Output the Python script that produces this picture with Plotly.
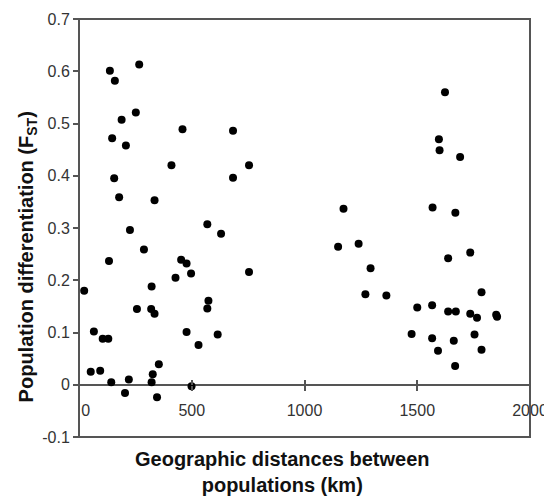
import plotly.graph_objects as go

# Geographic distance (km) between population pairs
distance_km = [
    137, 159, 267, 252, 189, 147, 208, 459, 683, 410, 754, 156, 683, 178, 335,
    569, 630, 226, 288, 133, 453, 477, 497, 428, 754, 23, 322, 257, 320, 335,
    574, 569, 66, 105, 130, 477, 615, 530, 52, 94, 354, 327, 221, 143, 322,
    204, 346, 499,
    1623, 1596, 1599, 1690, 1173, 1568, 1669, 1149, 1240, 1293, 1270, 1363,
    1637, 1735, 1785, 1500, 1566, 1637, 1671, 1735, 1765, 1850, 1854, 1475,
    1566, 1662, 1754, 1592, 1785, 1668,
]
# Population differentiation FST
fst = [
    0.601, 0.582, 0.613, 0.521, 0.507, 0.472, 0.458, 0.489, 0.486, 0.420, 0.420, 0.395, 0.396, 0.359, 0.353,
    0.307, 0.289, 0.296, 0.259, 0.237, 0.239, 0.232, 0.213, 0.205, 0.216, 0.180, 0.188, 0.145, 0.145, 0.136,
    0.161, 0.146, 0.102, 0.088, 0.088, 0.101, 0.096, 0.076, 0.025, 0.027, 0.039, 0.020, 0.010, 0.005, 0.005,
    -0.016, -0.024, -0.003,
    0.560, 0.470, 0.449, 0.436, 0.337, 0.339, 0.329, 0.264, 0.270, 0.223, 0.173, 0.171,
    0.242, 0.253, 0.177, 0.148, 0.152, 0.140, 0.140, 0.136, 0.128, 0.134, 0.130, 0.097,
    0.089, 0.084, 0.096, 0.065, 0.067, 0.036,
]

x_tick_vals = [0, 500, 1000, 1500, 2000]
x_tick_text = ["\u00a0\u00a0\u00a00", "500", "1000", "1500", "2000"]
y_tick_vals = [-0.1, 0, 0.1, 0.2, 0.3, 0.4, 0.5, 0.6, 0.7]
y_tick_text = ["-0.1", "0", "0.1", "0.2", "0.3", "0.4", "0.5", "0.6", "0.7"]

x_title = "<b>Geographic distances between<br>populations (km)</b>"
y_title = "<b>Population differentiation (F<sub>ST</sub>)</b>"

FONT = "Liberation Sans, Arial, sans-serif"
LINE = "#555555"

fig = go.Figure()
fig.add_trace(go.Scatter(
    x=distance_km, y=fst, mode="markers",
    marker=dict(color="black", size=8, line=dict(width=0)),
    showlegend=False,
))
# helper trace for the second x-axis (inside ticks)
fig.add_trace(go.Scatter(x=[1000], y=[0.3], xaxis="x2", mode="markers",
                         marker=dict(size=0, opacity=0), hoverinfo="skip",
                         showlegend=False))

y0_pos = (0 - (-0.1)) / 0.8

fig.update_layout(
    width=544, height=488,
    margin=dict(l=71, r=22, t=11, b=59, autoexpand=False),
    paper_bgcolor="white", plot_bgcolor="white",
    font=dict(family=FONT, size=16, color="#333333"),
    xaxis=dict(
        range=[0, 2000], anchor="free", position=y0_pos, automargin=False,
        tickvals=x_tick_vals, ticktext=x_tick_text,
        ticks="outside", ticklen=5, tickwidth=2, tickcolor=LINE,
        showgrid=False, zeroline=False, showline=False,
        tickfont=dict(size=16, color="#333333"),
        ticklabelstandoff=6,
    ),
    xaxis2=dict(
        range=[0, 2000], anchor="free", position=y0_pos, overlaying="x",
        automargin=False,
        tickvals=x_tick_vals, ticks="inside", ticklen=5, tickwidth=2,
        tickcolor=LINE, showticklabels=False, showgrid=False,
        zeroline=False, showline=False, side="bottom",
    ),
    yaxis=dict(
        range=[-0.1, 0.7], tickvals=y_tick_vals, ticktext=y_tick_text,
        automargin=False,
        ticks="outside", ticklen=5, tickwidth=2, tickcolor=LINE,
        showgrid=False, zeroline=True, zerolinecolor=LINE, zerolinewidth=2,
        showline=False, tickfont=dict(size=16, color="#333333"),
    ),
    shapes=[dict(type="rect", xref="paper", yref="paper", x0=0, x1=1, y0=0, y1=1,
                 line=dict(color=LINE, width=2), layer="above")],
    annotations=[
        dict(text=x_title, xref="paper", yref="paper", x=0.452, y=-0.084,
             xanchor="center", yanchor="middle", showarrow=False,
             font=dict(family=FONT, size=20, color="#111111")),
        dict(text=y_title, xref="paper", yref="paper", x=-0.115, y=0.43,
             xanchor="center", yanchor="middle", showarrow=False, textangle=-90,
             font=dict(family=FONT, size=20, color="#111111")),
    ],
)

fig.write_html("out.html")
